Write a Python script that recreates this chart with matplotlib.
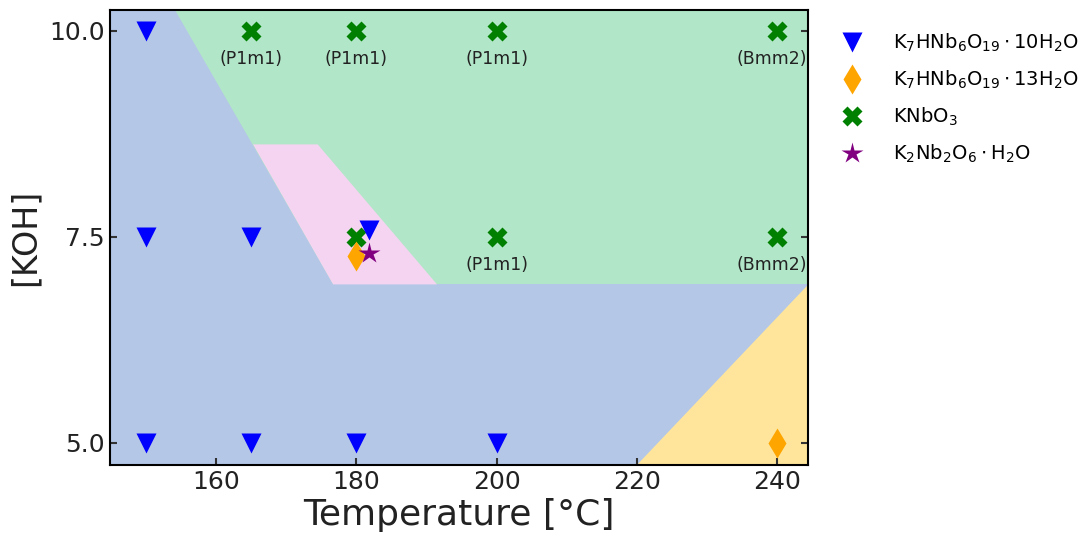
import matplotlib
matplotlib.use('Agg')
from matplotlib import pyplot as plt

plt.rcParams['font.family'] = 'DejaVu Sans'
plt.rcParams['mathtext.fontset'] = 'dejavusans'

# phase fields (temperature, KOH)
blue_T = [144.9, 244.4, 244.4, 144.9]
blue_K = [4.73, 4.73, 10.25, 10.25]
green_T = [154.2, 244.4, 244.4, 191.5, 176.7]
green_K = [10.25, 10.25, 6.92, 6.92, 6.92]
pink_T = [165.3, 174.5, 191.5, 176.7]
pink_K = [8.62, 8.62, 6.92, 6.92]
yellow_T = [220.0, 244.4, 244.4]
yellow_K = [4.73, 6.92, 4.73]

# measured samples
nb10_T = [150, 150, 165, 150, 165, 180, 200, 181.8]
nb10_K = [10, 7.5, 7.5, 5, 5, 5, 5, 7.58]
nb13_T = [180, 240]
nb13_K = [7.27, 5]
knbo3_T = [165, 180, 200, 240, 180, 200, 240]
knbo3_K = [10, 10, 10, 10, 7.5, 7.5, 7.5]
k2nb_T = [181.8]
k2nb_K = [7.3]

labels_T = [165, 180, 200, 240, 200, 240]
labels_K = [10, 10, 10, 10, 7.5, 7.5]
labels_txt = ['(P1m1)', '(P1m1)', '(P1m1)', '(Bmm2)', '(P1m1)', '(Bmm2)']

fig = plt.figure(figsize=(10.88, 5.33), dpi=100)
ax = fig.add_axes([0.101, 0.128, 0.642, 0.853])

ax.fill(blue_T, blue_K, color='#b4c7e7', lw=0)
ax.fill(green_T, green_K, color='#b2e6c8', lw=0)
ax.fill(pink_T, pink_K, color='#f5d4f1', lw=0)
ax.fill(yellow_T, yellow_K, color='#fee59b', lw=0)

ax.plot(knbo3_T, knbo3_K, 'X', color='green', ms=15, ls='none', mec='none',
        label=r'$\mathrm{KNbO_3}$')
ax.plot(nb13_T, nb13_K, 'd', color='orange', ms=15, ls='none', mec='none',
        label=r'$\mathrm{K_7HNb_6O_{19}\cdot 13H_2O}$')
ax.plot(nb10_T, nb10_K, 'v', color='blue', ms=15, ls='none', mec='none',
        label=r'$\mathrm{K_7HNb_6O_{19}\cdot 10H_2O}$')
ax.plot(k2nb_T, k2nb_K, '*', color='purple', ms=16, ls='none', mec='none',
        label=r'$\mathrm{K_2Nb_2O_6\cdot H_2O}$')

for t, k, s in zip(labels_T, labels_K, labels_txt):
    dx = -4 if t == 240 else 0
    ax.annotate(s, (t, k), xytext=(dx, -14), textcoords='offset points',
                ha='center', va='top', fontsize=12.5, color='#222222')

ax.set_xlim(144.9, 244.4)
ax.set_ylim(4.73, 10.25)
ax.set_xticks([160, 180, 200, 220, 240])
ax.set_yticks([5.0, 7.5, 10.0])
ax.tick_params(direction='in', length=5, width=1.5, labelsize=18,
               right=True, colors='#333333', labelcolor='#222222')
for sp in ax.spines.values():
    sp.set_linewidth(1.5)
    sp.set_color('black')

ax.set_xlabel('Temperature [°C]', fontsize=26, color='#222222', labelpad=3.5)
ax.set_ylabel('[KOH]', fontsize=24, color='#222222', labelpad=6)

h, l = ax.get_legend_handles_labels()
order = [2, 1, 0, 3]
ax.legend([h[i] for i in order], [l[i] for i in order], loc='upper left',
          bbox_to_anchor=(1.01, 0.99), frameon=False, fontsize=14,
          labelspacing=0.75, handletextpad=1.1)

plt.savefig('out.png', dpi=100)
